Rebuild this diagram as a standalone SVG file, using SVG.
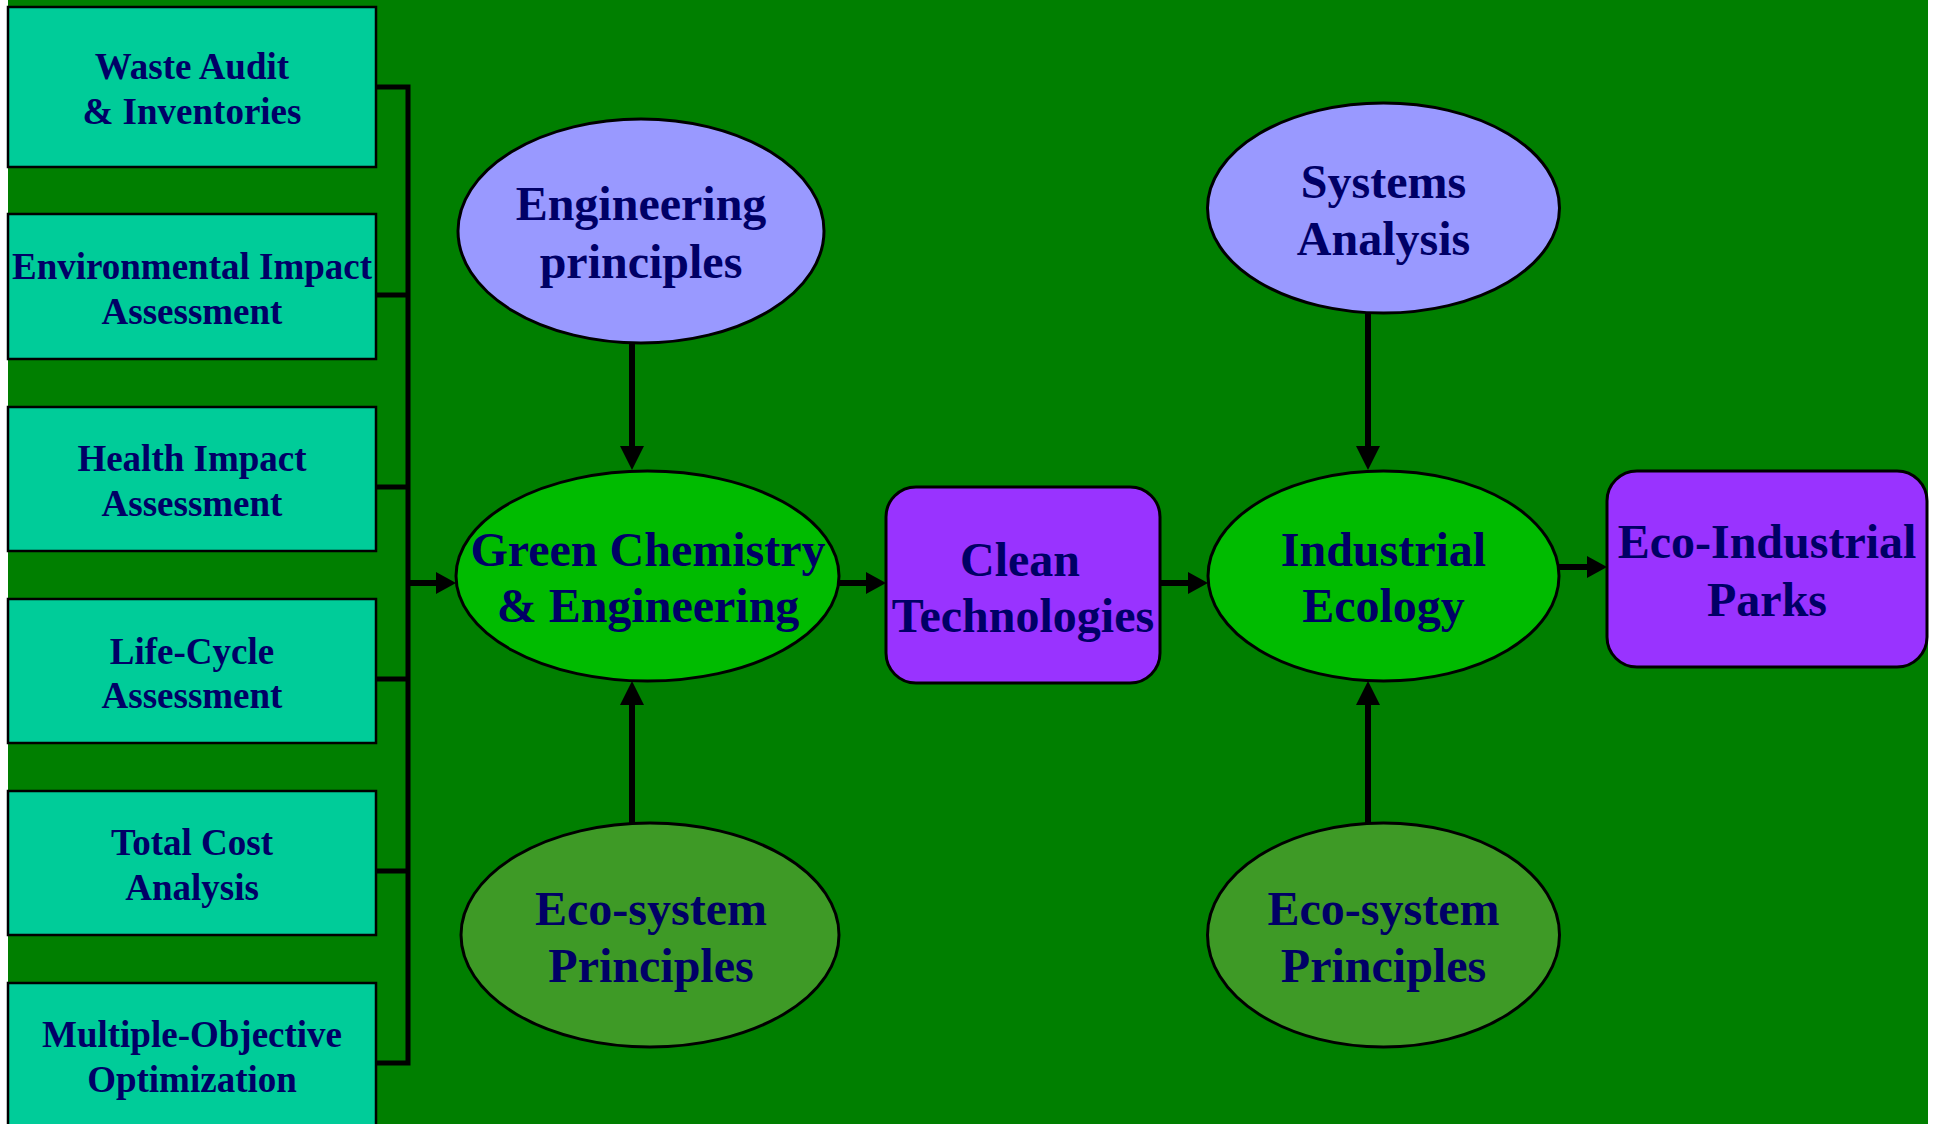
<svg xmlns="http://www.w3.org/2000/svg" width="1937" height="1124" viewBox="0 0 1937 1124">
<style>
text{font-family:"Liberation Serif","Times New Roman",serif;font-weight:bold;fill:#000066;text-anchor:middle}
.s{font-size:37px}
.b{font-size:48px}
.box{fill:#00CC99;stroke:#000;stroke-width:2.5}
.lav{fill:#9999FF;stroke:#000;stroke-width:3}
.grn{fill:#00BB00;stroke:#000;stroke-width:3}
.eco{fill:#3E9A26;stroke:#000;stroke-width:3}
.pur{fill:#9933FF;stroke:#000;stroke-width:3}
.ln{stroke:#000;stroke-width:6;fill:none}
.br{stroke:#000;stroke-width:5;fill:none}
</style>
<defs>
<marker id="ah" markerUnits="userSpaceOnUse" markerWidth="24" markerHeight="24" refX="0" refY="12" orient="auto" overflow="visible">
<path d="M0,0 L24,12 L0,24 z" fill="#000"/>
</marker>
<marker id="ahs" markerUnits="userSpaceOnUse" markerWidth="20" markerHeight="22" refX="0" refY="11" orient="auto" overflow="visible">
<path d="M0,0 L20,11 L0,22 z" fill="#000"/>
</marker>
</defs>
<rect x="0" y="0" width="1937" height="1124" fill="#FFFFFF"/>
<rect x="8" y="0" width="1920" height="1124" fill="#007F00"/>

<g id="connectors">
<path class="br" d="M373,87 H408 V1063 H373 M373,295 H408 M373,487 H408 M373,679 H408 M373,871 H408"/>
<line class="ln" x1="408" y1="583" x2="436" y2="583" marker-end="url(#ahs)"/>
<line class="ln" x1="839" y1="583" x2="866" y2="583" marker-end="url(#ahs)"/>
<line class="ln" x1="1157" y1="583" x2="1188" y2="583" marker-end="url(#ahs)"/>
<line class="ln" x1="1557" y1="567" x2="1587" y2="567" marker-end="url(#ahs)"/>
<line class="ln" x1="632" y1="339" x2="632" y2="446" marker-end="url(#ah)"/>
<line class="ln" x1="632" y1="828" x2="632" y2="705" marker-end="url(#ah)"/>
<line class="ln" x1="1368" y1="307" x2="1368" y2="446" marker-end="url(#ah)"/>
<line class="ln" x1="1368" y1="828" x2="1368" y2="705" marker-end="url(#ah)"/>
</g>

<g id="waste-audit">
<rect class="box" x="8" y="7" width="368" height="160"/>
<text class="s" x="192" y="79">Waste Audit</text>
<text class="s" x="192" y="124">&amp; Inventories</text>
</g>
<g id="eia">
<rect class="box" x="8" y="214" width="368" height="145"/>
<text class="s" x="192" y="279">Environmental Impact</text>
<text class="s" x="192" y="324">Assessment</text>
</g>
<g id="hia">
<rect class="box" x="8" y="407" width="368" height="144"/>
<text class="s" x="192" y="471">Health Impact</text>
<text class="s" x="192" y="516">Assessment</text>
</g>
<g id="lca">
<rect class="box" x="8" y="599" width="368" height="144"/>
<text class="s" x="192" y="664">Life-Cycle</text>
<text class="s" x="192" y="708">Assessment</text>
</g>
<g id="tca">
<rect class="box" x="8" y="791" width="368" height="144"/>
<text class="s" x="192" y="855">Total Cost</text>
<text class="s" x="192" y="900">Analysis</text>
</g>
<g id="moo">
<rect class="box" x="8" y="983" width="368" height="160"/>
<text class="s" x="192" y="1047">Multiple-Objective</text>
<text class="s" x="192" y="1092">Optimization</text>
</g>

<g id="eng-principles">
<ellipse class="lav" cx="641" cy="231" rx="183" ry="112"/>
<text class="b" x="641" y="220">Engineering</text>
<text class="b" x="641" y="278">principles</text>
</g>
<g id="green-chem">
<ellipse class="grn" cx="647.5" cy="576" rx="191.5" ry="105"/>
<text class="b" x="648" y="566">Green Chemistry</text>
<text class="b" x="648" y="622">&amp; Engineering</text>
</g>
<g id="eco-left">
<ellipse class="eco" cx="650" cy="935" rx="189" ry="112"/>
<text class="b" x="651" y="925">Eco-system</text>
<text class="b" x="651" y="982">Principles</text>
</g>
<g id="clean-tech">
<rect class="pur" x="886" y="487" width="274" height="196" rx="30" ry="30"/>
<text class="b" x="1020" y="576">Clean</text>
<text class="b" x="1023" y="632">Technologies</text>
</g>
<g id="systems-analysis">
<ellipse class="lav" cx="1383.5" cy="208" rx="176" ry="105"/>
<text class="b" x="1383.5" y="198">Systems</text>
<text class="b" x="1383.5" y="255">Analysis</text>
</g>
<g id="industrial-ecology">
<ellipse class="grn" cx="1383.5" cy="576" rx="175.5" ry="105"/>
<text class="b" x="1383.5" y="566">Industrial</text>
<text class="b" x="1383.5" y="622">Ecology</text>
</g>
<g id="eco-right">
<ellipse class="eco" cx="1383.5" cy="935" rx="176" ry="112"/>
<text class="b" x="1383.5" y="925">Eco-system</text>
<text class="b" x="1383.5" y="982">Principles</text>
</g>
<g id="eco-parks">
<rect class="pur" x="1607" y="471" width="320" height="196" rx="30" ry="30"/>
<text class="b" x="1767" y="558">Eco-Industrial</text>
<text class="b" x="1767" y="616">Parks</text>
</g>
</svg>
